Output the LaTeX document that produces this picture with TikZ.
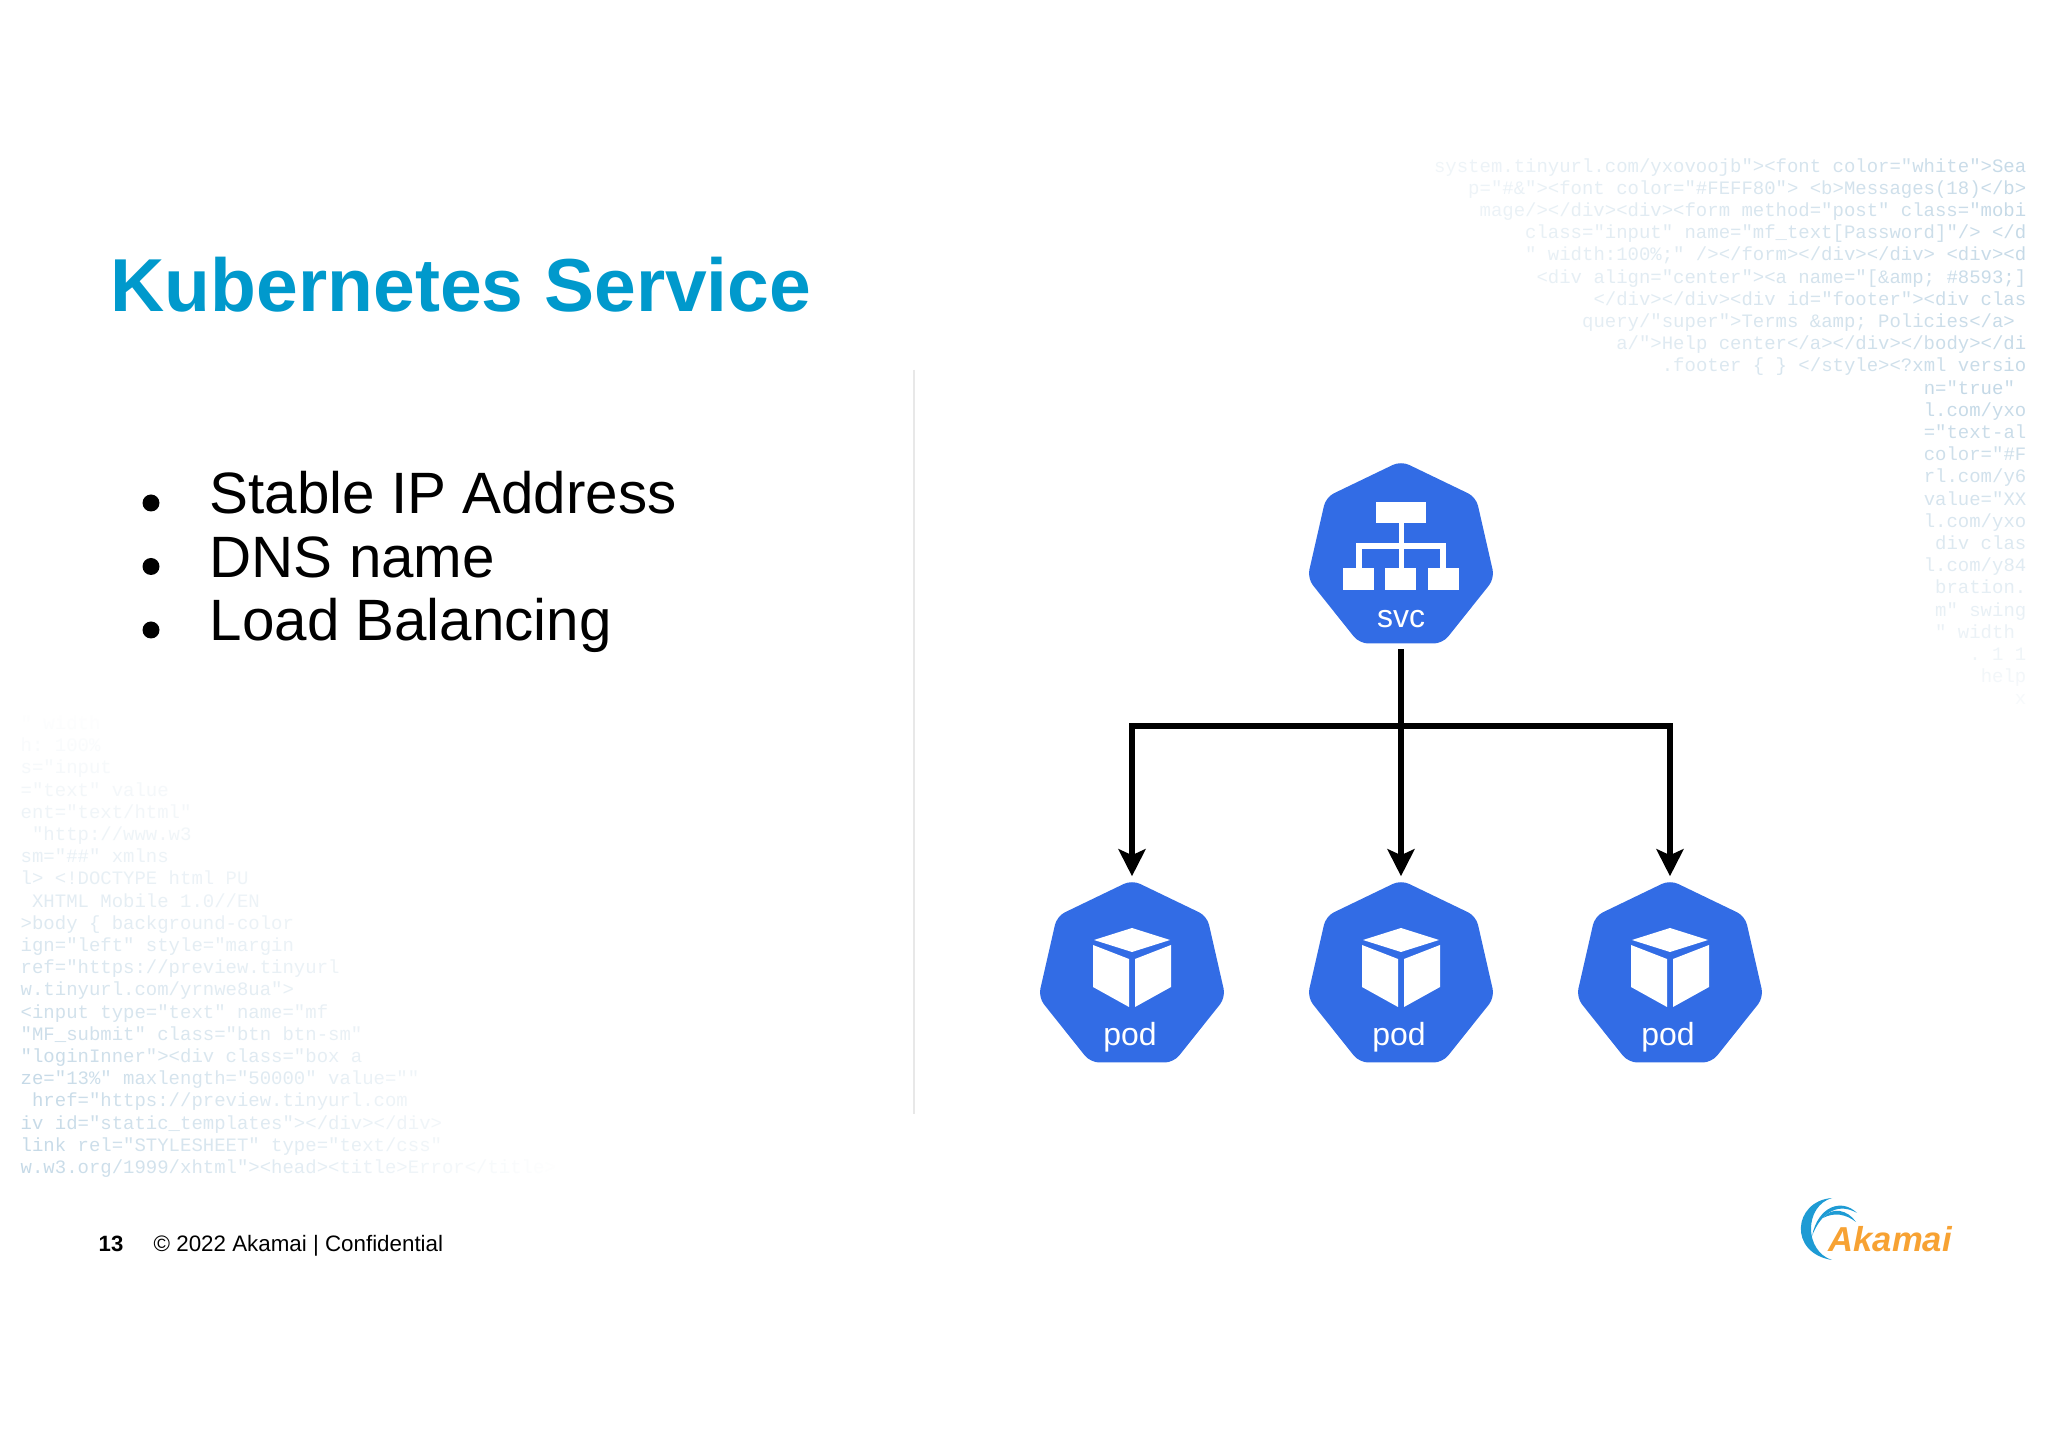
\documentclass[tikz,border=0pt]{standalone}
\usepackage{fontspec}
\setmainfont{Liberation Sans}
\setmonofont{Liberation Mono}
\usepackage{tikz}
\usetikzlibrary{arrows.meta}
\usetikzlibrary{shapes.geometric}
\usetikzlibrary{fadings}
\definecolor{kubeblue}{HTML}{326CE5}
\definecolor{titleblue}{HTML}{0099CC}
\definecolor{codeblue}{HTML}{C3D8E6}
\definecolor{logoblue}{HTML}{1E9BD4}
\definecolor{logoorange}{HTML}{F7A233}
\definecolor{rulegray}{HTML}{E8E8E8}
\tikzfading[name=fade to right,left color=transparent!0,right color=transparent!100]
\tikzfading[name=fade to left,left color=transparent!100,right color=transparent!0]
\tikzfading[name=fade to top,bottom color=transparent!100,top color=transparent!0]
\tikzfading[name=fade to bottom,bottom color=transparent!0,top color=transparent!100]
\tikzset{
	hepta/.style={shape=regular polygon,regular polygon sides=7,minimum size=1.92cm,inner sep=0pt,fill=kubeblue,rounded corners=2.5pt},
	heptalabel/.style={anchor=base,inner sep=0pt,text=white,font=\fontsize{9.1}{11}\selectfont},
	link/.style={line width=1.7pt,line join=miter,shorten <=0.05cm,shorten >=0.03cm},
	codeline/.style={inner sep=0pt,text=codeblue,font=\ttfamily\fontsize{5.4}{6}\selectfont},
	listitem/.style={anchor=base west,inner sep=0pt,font=\fontsize{16.6}{20}\selectfont},
	footitem/.style={anchor=base west,inner sep=0pt,font=\fontsize{6.36}{8}\selectfont}
}
\newcommand{\drawsvc}[2]{
	\draw #1 node (#2) [hepta] {};
	\fill [white] (#2) ++(-0.25,0.34) rectangle ++(0.5,0.21);
	\fill [white] (#2) ++(-0.025,-0.11) rectangle ++(0.05,0.45);
	\fill [white] (#2) ++(-0.45,0.08) rectangle ++(0.9,0.06);
	\fill [white] (#2) ++(-0.45,-0.11) rectangle ++(0.06,0.25);
	\fill [white] (#2) ++(0.39,-0.11) rectangle ++(0.06,0.25);
	\foreach \i in {-0.58,-0.16,0.27} {
		\fill [white] (#2) ++(\i,-0.33) rectangle ++(0.31,0.22);
	}
	\draw (#2) ++(0,-0.71) node (#2label) [heptalabel] {svc};
}
\newcommand{\drawpod}[2]{
	\draw #1 node (#2) [hepta] {};
	\fill [white] (#2) ++(0,0.48) -- ++(0.38,-0.12) -- ++(-0.38,-0.12) -- ++(-0.38,0.12) -- cycle;
	\fill [white] (#2) ++(-0.39,0.31) -- ++(0.36,-0.14) -- ++(0,-0.48) -- ++(-0.36,0.2) -- cycle;
	\fill [white] (#2) ++(0.39,0.31) -- ++(-0.36,-0.14) -- ++(0,-0.48) -- ++(0.36,0.2) -- cycle;
	\draw (#2) ++(-0.02,-0.70) node (#2label) [heptalabel] {pod};
}
\begin{document}
\begin{tikzpicture}
	\useasboundingbox (0,0) rectangle (20.48,14.48);
	\foreach \t [count=\i] in {
		{system.tinyurl.com/yxovoojb"><font color="white">Sea},
		{p="\#\&"><font color="\#FEFF80"> <b>Messages(18)</b>},
		{mage/></div><div><form method="post" class="mobi},
		{class="input" name="mf\_text[Password]"/> </d},
		{" width:100\%;" /></form></div></div> <div><d},
		{<div align="center"><a name="[\&amp; \#8593;]},
		{</div></div><div id="footer"><div clas},
		{query/"super">Terms \&amp; Policies</a>\hphantom{x}},
		{a/">Help center</a></div></body></di},
		{.footer \{ \} </style><?xml versio},
		{n="true"\hphantom{x}},
		{l.com/yxo},
		{="text-al},
		{color="\#F},
		{rl.com/y6},
		{value="XX},
		{l.com/yxo},
		{div clas},
		{l.com/y84},
		{bration.},
		{m" swing},
		{" width\hphantom{x}},
		{. 1 1},
		{help},
		{x}} {
		\node (codea\i) [codeline,anchor=base east] at (20.27,12.98-0.222*\i) {\strut\t};
	}
	\foreach \t [count=\i] in {
		{ ws},
		{"},
		{" width},
		{h: 100\%},
		{s="input},
		{="text" value},
		{ent="text/html"},
		{ "http://www.w3},
		{sm="\#\#" xmlns},
		{l> <!DOCTYPE html PU},
		{ XHTML Mobile 1.0//EN},
		{>body \{ background-color},
		{ign="left" style="margin},
		{ref="https://preview.tinyurl},
		{w.tinyurl.com/yrnwe8ua">},
		{<input type="text" name="mf},
		{"MF\_submit" class="btn btn-sm"},
		{"loginInner"><div class="box a},
		{ze="13\%" maxlength="50000" value=""},
		{ href="https://preview.tinyurl.com},
		{iv id="static\_templates"></div></div>},
		{link rel="STYLESHEET" type="text/css"},
		{w.w3.org/1999/xhtml"><head><title>Error</title>}} {
		\node (codeb\i) [codeline,anchor=base west] at (0.2,7.85-0.222*\i) {\strut\t};
	}
	\fill [white,path fading=fade to right] (12.4,10.62) rectangle (20.6,13.2);
	\fill [white] (0,10.62) rectangle (12.4,13.2);
	\fill [white,path fading=fade to bottom] (18.6,7.0) rectangle (20.48,10.62);
	\fill [white,path fading=fade to left] (0,2.5) rectangle (5.6,8.1);
	\fill [white,path fading=fade to top] (0,3.8) rectangle (5.6,7.4);
	\fill [white] (0,7.4) rectangle (5.6,8.1);
	\node (title) [anchor=base west,inner sep=0pt,text=titleblue,font=\bfseries\fontsize{21.35}{26}\selectfont] at (1.1,11.36) {Kubernetes Service};
	\foreach \t [count=\i] in {Stable IP Address,DNS name,Load Balancing} {
		\node (item\i) [listitem] at (2.09,9.34-0.635*\i+0.635) {\t};
		\node (dot\i) [circle,fill=black,inner sep=0pt,minimum size=0.17cm] at (1.51,9.45-0.635*\i+0.635) {};
	}
	\coordinate (ruletop) at (9.14,10.78);
	\coordinate (rulebot) at (9.14,3.34);
	\draw [rulegray,line width=0.4pt] (ruletop) -- (rulebot);
	\drawsvc{(14.01,8.91)}{svc};
	\drawpod{(11.32,4.72)}{poda};
	\drawpod{(14.01,4.72)}{podb};
	\drawpod{(16.70,4.72)}{podc};
	\coordinate (bus) at (14.01,7.22);
	\foreach \p in {poda,podb,podc} {
		\draw [link,-{Stealth[length=0.27cm,width=0.27cm,inset=0.06cm]}] (svc.south) |- (bus -| \p.north) -- (\p.north);
	}
	\node (page) [footitem,font=\bfseries\fontsize{6.3}{8}\selectfont] at (0.98,1.97) {13};
	\node (foot) [footitem] at (1.53,1.97) {© 2022 Akamai | Confidential};
	\fill [logoblue] (18.32,2.50) .. controls (17.93,2.47) and (17.88,1.95) .. (18.32,1.88) .. controls (18.04,1.97) and (18.04,2.42) .. cycle;
	\fill [logoblue] (18.12,2.12) .. controls (18.18,2.42) and (18.42,2.50) .. (18.57,2.35) .. controls (18.40,2.45) and (18.22,2.38) .. cycle;
	\fill [logoblue] (18.23,2.30) .. controls (18.32,2.42) and (18.48,2.38) .. (18.56,2.26) .. controls (18.46,2.34) and (18.34,2.36) .. cycle;
	\node (logo) [anchor=base west,inner sep=0pt,text=logoorange,font=\bfseries\itshape\fontsize{9.85}{12}\selectfont] at (18.28,1.96) {Akamai};
\end{tikzpicture}
\end{document}
